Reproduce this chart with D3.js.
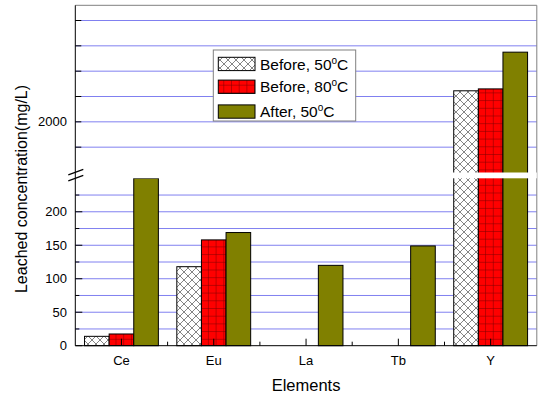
<!DOCTYPE html>
<html>
<head>
<meta charset="utf-8">
<script src="https://cdn.jsdelivr.net/npm/d3@7"></script>
<style>
  html, body { margin: 0; padding: 0; background: #fff; }
  svg { display: block; font-family: Arial, "Liberation Sans", sans-serif; }
</style>
</head>
<body>
<svg id="chart" width="538" height="395"></svg>
<script>
// Leached concentration per element (mg/L)
const categories = ["Ce", "Eu", "La", "Tb", "Y"];
const seriesNames = ["Before, 50", "Before, 80", "After, 50"];
const before50 = [14, 118, 0, 0, 2490];
const before80 = [17.5, 158, 0, 0, 2520];
const after50  = [250, 169, 120, 149, 3100];

// broken y axis: lower and upper segments
const lowerDomain = [0, 250];
const upperDomain = [1200, 3840];
const lowerTicks = [25, 50, 75, 100, 125, 150, 175, 200, 225];
const lowerLabels = [0, 50, 100, 150, 200];
const upperTicks = [1600, 2000, 2400, 2800, 3200, 3600];
const upperLabels = [2000];

const svg = d3.select("#chart");
const L = 75.3, R = 536.8, T = 5.3, B = 345.7;
const breakLo = 178.3, breakHi = 172.5;

const x = d3.scaleBand().domain(categories).range([L, R]).paddingInner(0.2).paddingOuter(0.1);
const xs = d3.scaleBand().domain([0, 1, 2]).range([0, x.bandwidth()]);
const yLow = d3.scaleLinear().domain(lowerDomain).range([B, breakLo]);
const yHigh = d3.scaleLinear().domain(upperDomain).range([breakHi, T]);
const y = v => v <= lowerDomain[1] ? yLow(v) : yHigh(v);

// fill patterns
const defs = svg.append("defs");
const cross = defs.append("pattern").attr("id", "cross").attr("patternUnits", "userSpaceOnUse")
  .attr("width", 8).attr("height", 8);
cross.append("rect").attr("width", 8).attr("height", 8).attr("fill", "#fff");
cross.append("path").attr("d", "M0,0L8,8M8,0L0,8").attr("stroke", "#666").attr("stroke-width", 0.8);
const grid = defs.append("pattern").attr("id", "grid").attr("patternUnits", "userSpaceOnUse")
  .attr("width", 7.7).attr("height", 7.7);
grid.append("rect").attr("width", 7.7).attr("height", 7.7).attr("fill", "#ff0000");
grid.append("path").attr("d", "M0,0V7.7M0,0H7.7").attr("stroke", "#7a0000").attr("stroke-width", 1);
const fills = ["url(#cross)", "url(#grid)", "#808000"];

// gridlines
const gridColor = "#8080f0";
svg.append("g").selectAll("line").data(lowerTicks).join("line")
  .attr("x1", L).attr("x2", R).attr("y1", d => yLow(d)).attr("y2", d => yLow(d))
  .attr("stroke", gridColor).attr("stroke-width", 1);
svg.append("g").selectAll("line").data(upperTicks).join("line")
  .attr("x1", L).attr("x2", R).attr("y1", d => yHigh(d)).attr("y2", d => yHigh(d))
  .attr("stroke", gridColor).attr("stroke-width", 1);

// frame (top and right)
svg.append("path").attr("d", `M${L},${T}H${R}V${B}`).attr("fill", "none")
  .attr("stroke", "#808080").attr("stroke-width", 1);

// bars
const series = [before50, before80, after50];
const barData = [];
series.forEach((vals, si) => vals.forEach((v, ci) => { if (v > 0) barData.push({ si, c: categories[ci], v }); }));
svg.append("g").selectAll("rect").data(barData).join("rect")
  .attr("x", d => x(d.c) + xs(d.si))
  .attr("width", xs.bandwidth())
  .attr("y", d => y(d.v))
  .attr("height", d => B - y(d.v))
  .attr("fill", d => fills[d.si])
  .attr("stroke", "#000").attr("stroke-width", 1);

// break gap across the plot
svg.append("rect").attr("x", L).attr("y", breakHi).attr("width", R - L).attr("height", breakLo - breakHi)
  .attr("fill", "#fff");

// left axis line and ticks
const axis = svg.append("g").attr("stroke", "#000").attr("stroke-width", 1);
axis.append("line").attr("x1", L).attr("x2", L).attr("y1", T).attr("y2", B);
axis.selectAll(".tl").data(lowerTicks.concat([0])).join("line")
  .attr("x1", L).attr("x2", d => L + (d % 50 === 0 ? 7 : 4))
  .attr("y1", d => yLow(d)).attr("y2", d => yLow(d));
axis.selectAll(".tu").data(upperTicks).join("line")
  .attr("x1", L).attr("x2", L + 6)
  .attr("y1", d => yHigh(d)).attr("y2", d => yHigh(d));
// break marks
const bc = (breakLo + breakHi) / 2;
axis.append("path")
  .attr("d", `M${L - 7},${bc - 0.5}L${L + 8},${bc - 6}M${L - 7},${bc + 5.5}L${L + 8},${bc}`)
  .attr("stroke-width", 1.2);

// bottom axis
axis.append("line").attr("x1", L).attr("x2", R).attr("y1", B).attr("y2", B);
axis.selectAll(".xm").data(categories).join("line")
  .attr("x1", d => x(d) + x.bandwidth() / 2).attr("x2", d => x(d) + x.bandwidth() / 2)
  .attr("y1", B).attr("y2", B - 7);
const step = x.step();
axis.selectAll(".xn").data(categories.slice(1)).join("line")
  .attr("x1", d => x(d) + x.bandwidth() / 2 - step / 2).attr("x2", d => x(d) + x.bandwidth() / 2 - step / 2)
  .attr("y1", B).attr("y2", B - 4);

// tick labels
svg.append("g").selectAll("text").data(lowerLabels).join("text")
  .attr("x", 67).attr("y", d => yLow(d) + 4.6).attr("text-anchor", "end")
  .attr("font-size", 13).attr("fill", "#000").text(d => d);
svg.append("g").selectAll("text").data(upperLabels).join("text")
  .attr("x", 67).attr("y", d => yHigh(d) + 4.6).attr("text-anchor", "end")
  .attr("font-size", 13).attr("fill", "#000").text(d => d);
svg.append("g").selectAll("text").data(categories).join("text")
  .attr("x", d => x(d) + x.bandwidth() / 2).attr("y", 365).attr("text-anchor", "middle")
  .attr("font-size", 13).attr("fill", "#000").text(d => d);

// axis titles
svg.append("text").attr("x", (L + R) / 2).attr("y", 391).attr("text-anchor", "middle")
  .attr("font-size", 16.5).attr("fill", "#000").text("Elements");
svg.append("text").attr("transform", "translate(26.5,189) rotate(-90)").attr("text-anchor", "middle")
  .attr("font-size", 16).attr("fill", "#000").text("Leached concentration(mg/L)");

// legend
const lg = svg.append("g");
lg.append("rect").attr("x", 213.3).attr("y", 50).attr("width", 142.4).attr("height", 71)
  .attr("fill", "#fff").attr("stroke", "#808080").attr("stroke-width", 1);
const rowY = [64, 86.8, 111.6];
seriesNames.forEach((name, i) => {
  lg.append("rect").attr("x", 218.3).attr("y", rowY[i] - 6.7).attr("width", 36.7).attr("height", 13.3)
    .attr("fill", fills[i]).attr("stroke", "#000").attr("stroke-width", 1);
  const t = lg.append("text").attr("x", 260).attr("y", rowY[i] + 5.6)
    .attr("font-size", 15.5).attr("fill", "#000");
  t.append("tspan").text(name);
  t.append("tspan").attr("font-size", 10).attr("dy", -6).text("o");
  t.append("tspan").attr("dy", 6).text("C");
});
</script>
</body>
</html>
